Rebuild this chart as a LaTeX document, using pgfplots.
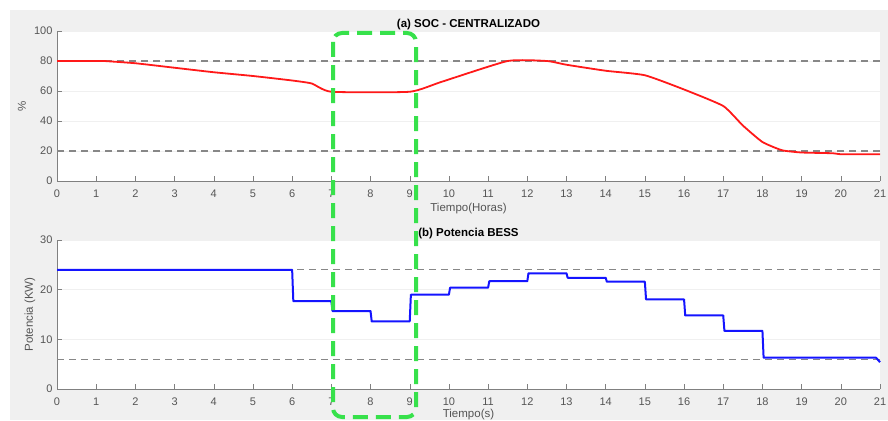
\documentclass[border=0pt]{standalone}
\usepackage{fontspec}
\setmainfont{Liberation Sans}
\usepackage{pgfplots}
\pgfplotsset{compat=1.18}
\definecolor{bg}{RGB}{240,240,240}
\definecolor{axc}{RGB}{128,128,128}
\definecolor{tkc}{RGB}{85,85,85}
\definecolor{grn}{RGB}{55,225,75}
\definecolor{redl}{RGB}{255,25,25}
\definecolor{bluel}{RGB}{20,20,255}
\definecolor{refl}{RGB}{135,135,135}
\pgfplotsset{
 myax/.style={
  scale only axis, width=823pt,
  xmin=0,xmax=21, xtick={0,...,21},
  axis x line*=bottom, axis y line*=left,
  axis line style={axc,-},
  tick style={axc, thin},
  major tick length=5pt,
  tick align=inside,
  ymajorgrids, grid style={gray!12},
  ticklabel style={font=\fontsize{11}{13}\selectfont, text=tkc},
  xticklabel style={yshift=-5pt},
  yticklabel style={xshift=-1pt},
  /pgf/number format/assume math mode=true,
  label style={font=\fontsize{11.5}{13}\selectfont, text=tkc},
  xlabel style={at={(axis description cs:0.5,0)}, anchor=center, yshift=-28pt},
  title style={font=\fontsize{11.5}{13}\selectfont\bfseries, at={(axis description cs:0.5,1)}, anchor=center, yshift=0pt},
  axis background/.style={fill=white},
  clip=false,
 },
 refline/.style={refl, line width=1.1pt, dash pattern=on 7pt off 5pt},
}
\begin{document}
\begin{tikzpicture}[x=1pt,y=1pt]
\useasboundingbox (0,0) rectangle (888,-420);
\fill[bg] (10,-10) rectangle (888,-420);
\begin{axis}[myax, height=150pt, at={(57pt,-181pt)}, anchor=south west,
  ymin=0, ymax=100, ytick={0,20,...,100},
  title={(a) SOC - CENTRALIZADO}, xlabel={Tiempo(Horas)}, ylabel={\%},
  ylabel style={at={(axis description cs:0,0.5)}, anchor=center, yshift=35pt}]
\addplot[refline] coordinates {(0,80) (21,80)};
\addplot[refline] coordinates {(0,20) (21,20)};
\addplot[redl, line width=1.8pt, smooth, tension=0.3] coordinates {
(0,80) (1,80) (1.2,80) (2,78.5) (3,75.5) (4,72.5) (5,70) (6,67) (6.5,65) (7,59.5)
(9,59.5) (9.8,66) (11.5,80) (12.5,80) (13,77.5) (14,73.5) (15,70.5) (16,61) (17,50)
(17.5,37) (18,26) (18.5,20.5) (19,19) (19.8,18.5) (20,17.8) (21,17.8)};
\end{axis}
\begin{axis}[myax, height=149pt, at={(57pt,-389pt)}, anchor=south west,
  ymin=0, ymax=30, ytick={0,10,20,30},
  title={(b) Potencia BESS}, xlabel={Tiempo(s)}, ylabel={Potencia (KW)},
  xlabel style={yshift=2pt},
  ylabel style={at={(axis description cs:0,0.5)}, anchor=center, yshift=27pt}]
\addplot[refline] coordinates {(0,24) (21,24)};
\addplot[refline] coordinates {(0,6) (21,6)};
\addplot[bluel, line width=2pt, line join=round] coordinates {
(0,24) (6,24) (6.03,17.7) (7,17.7) (7.03,15.7) (8,15.7) (8.03,13.6) (9,13.6) (9.03,19) (10,19)
(10.03,20.4) (11,20.4) (11.03,21.7) (12,21.7) (12.03,23.3) (13,23.3) (13.03,22.4) (14,22.4)
(14.03,21.6) (15,21.6) (15.03,18.05) (16,18.05) (16.03,14.8) (17,14.8) (17.03,11.7) (18,11.7)
(18.03,6.3) (20.9,6.3) (21,5.4)};
\end{axis}
\draw[grn, line width=4pt, dash pattern=on 15pt off 8pt, rounded corners=9pt]
  (333,-33) rectangle (416,-417);
\end{tikzpicture}
\end{document}
